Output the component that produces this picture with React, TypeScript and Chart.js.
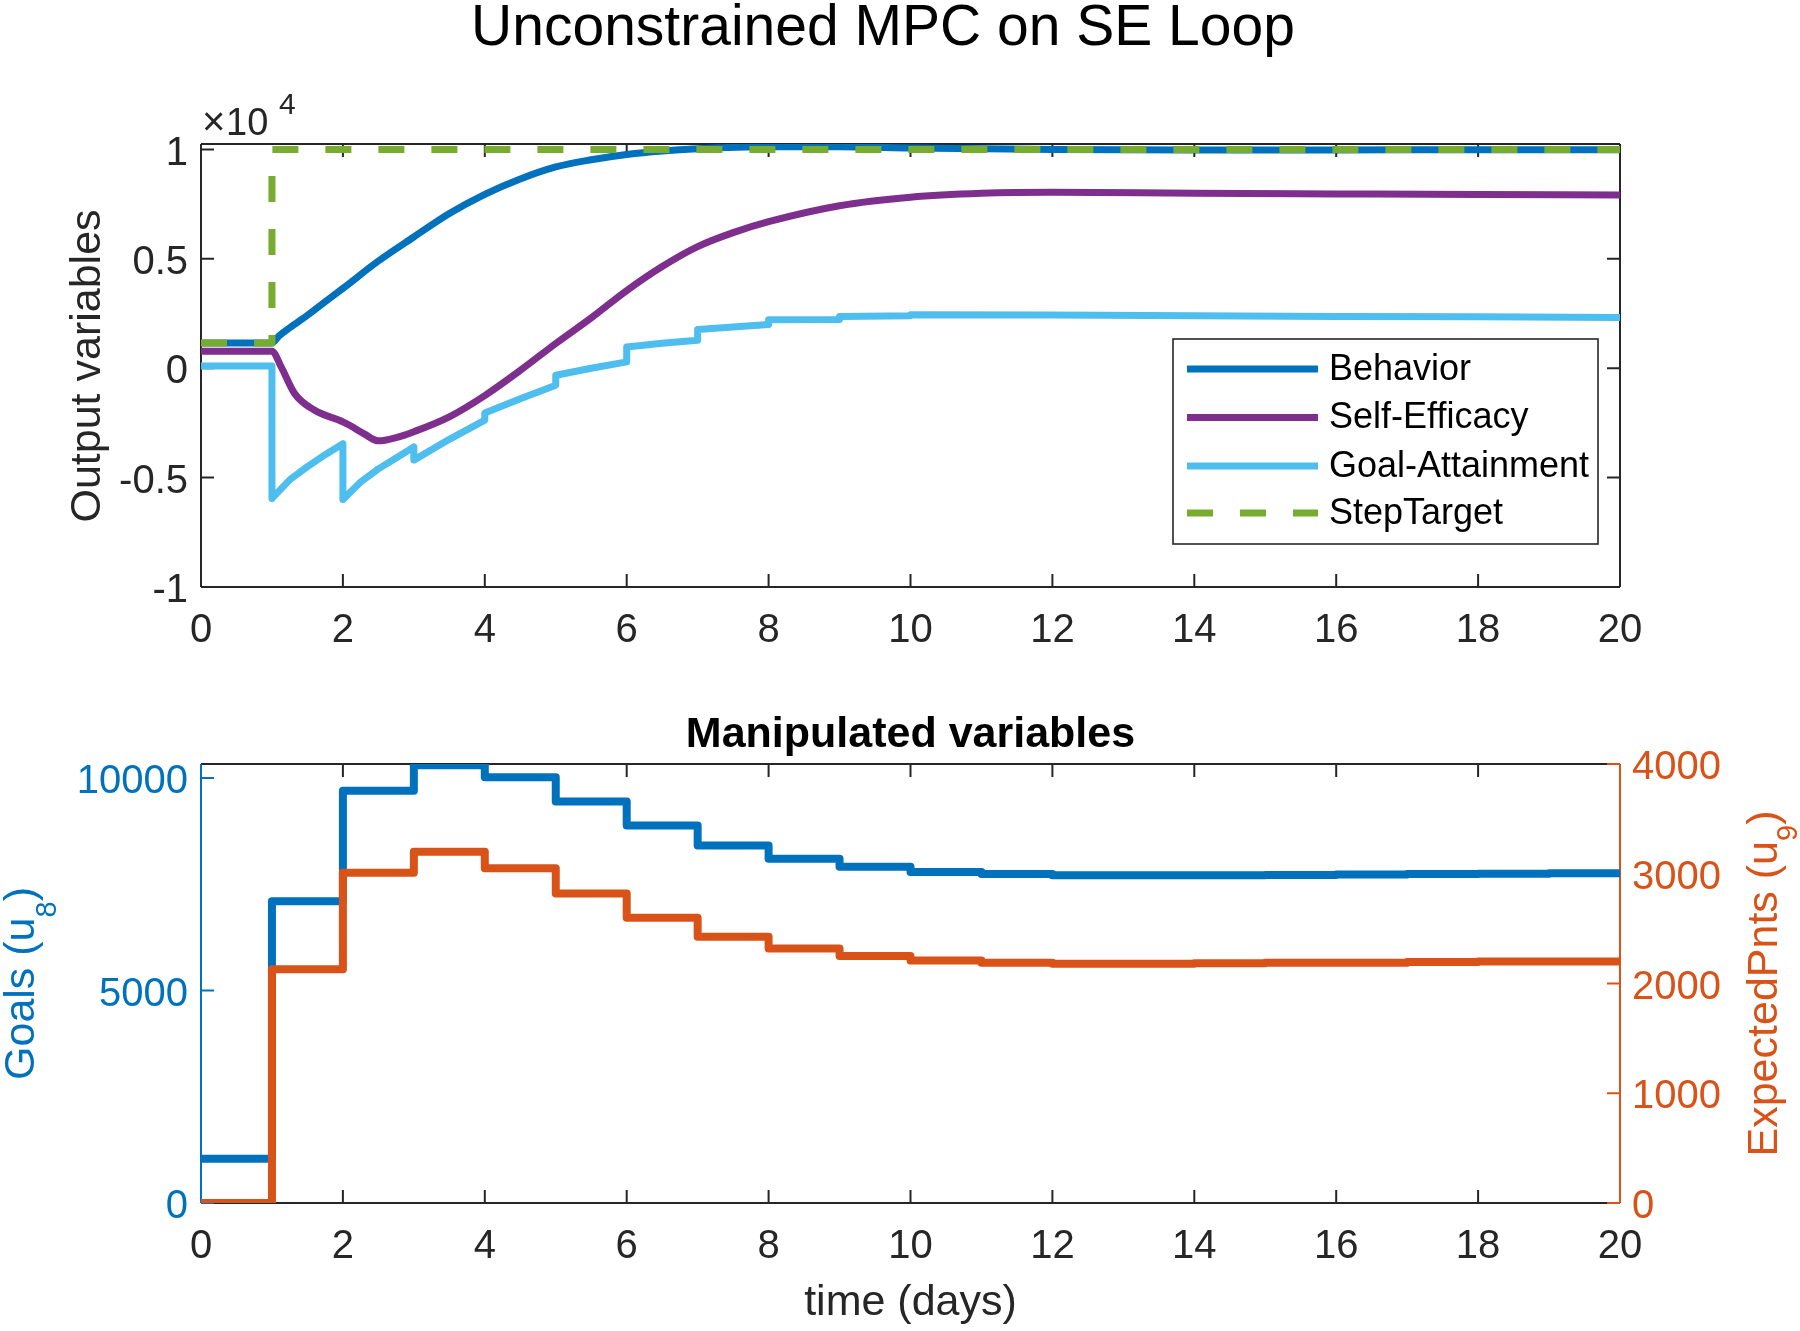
import React, { useEffect, useRef } from "react";
import { Chart, registerables } from "chart.js";

Chart.register(...registerables);

const FONT = "'Liberation Sans', Arial, Helvetica, sans-serif";

// ---------- data ----------
const DAY_TICKS = [0, 2, 4, 6, 8, 10, 12, 14, 16, 18, 20];
const OUTPUT_TICKS = [-10000, -5000, 0, 5000, 10000];
const OUTPUT_TICK_LABELS = ["-1", "-0.5", "0", "0.5", "1"];
const GOALS_TICKS = [0, 5000, 10000];
const POINTS_TICKS = [0, 1000, 2000, 3000, 4000];

const BEHAVIOR_T = [0, 1, 1.1, 1.25, 1.5, 1.75, 2, 2.5, 3, 3.5, 4, 4.5, 5, 5.5, 6, 6.5, 7, 8, 9, 10, 11, 12, 14, 16, 18, 20];
const BEHAVIOR = [1150, 1150, 1480, 1850, 2420, 3040, 3650, 4900, 6000, 7070, 7950, 8650, 9200, 9530, 9770, 9930, 10030, 10120, 10120, 10070, 10030, 10000, 9980, 9980, 9990, 9990];

const SELF_EFFICACY_T = [0, 1, 1.13, 1.32, 1.59, 2, 2.1, 2.3, 2.5, 2.75, 3, 3.5, 4, 4.5, 5, 5.5, 6, 6.5, 7, 7.5, 8, 9, 10, 11, 12, 14, 16, 18, 20];
const SELF_EFFICACY = [780, 780, 60, -1160, -1900, -2450, -2620, -3000, -3320, -3170, -2900, -2220, -1250, -100, 1130, 2300, 3550, 4650, 5560, 6200, 6700, 7430, 7820, 8000, 8050, 8000, 7970, 7940, 7920];

const GOAL_ATTAINMENT_T = [0, 1, 1, 1.25, 1.5, 1.75, 2, 2, 2.25, 2.5, 2.75, 3, 3, 3.5, 4, 4, 4.5, 5, 5, 5.5, 6, 6, 6.5, 7, 7, 7.5, 8, 8, 9, 9, 10, 10, 12, 14, 16, 18, 20];
const GOAL_ATTAINMENT = [100, 100, -5950, -5100, -4500, -3950, -3450, -6000, -5200, -4600, -4100, -3600, -4200, -3250, -2370, -2050, -1400, -780, -320, 0, 290, 970, 1140, 1280, 1770, 1880, 2000, 2220, 2230, 2360, 2400, 2440, 2430, 2400, 2370, 2350, 2320];

const STEP_TARGET_T = [0, 1, 1, 20];
const STEP_TARGET = [1150, 1150, 10000, 10000];

const MV_T = [0, 1, 2, 3, 4, 5, 6, 7, 8, 9, 10, 11, 12, 13, 14, 15, 16, 17, 18, 19, 20];
const GOALS_U8 = [1040, 7100, 9700, 10300, 10020, 9450, 8880, 8410, 8100, 7910, 7790, 7740, 7710, 7710, 7715, 7720, 7730, 7740, 7750, 7760, 7760];
const EXPECTED_PNTS_U9 = [0, 2130, 3010, 3200, 3050, 2820, 2600, 2425, 2320, 2250, 2210, 2190, 2180, 2180, 2185, 2190, 2190, 2195, 2200, 2200, 2200];

// ---------- helpers ----------
const zip = (ts: number[], vs: number[]) => ts.map((t, i) => ({ x: t, y: vs[i] }));

const C_AX = "#262626";
const C_BLUE = "#0072BD";
const C_ORANGE = "#D95319";
const TL = 13;

function drawFrame(chart: any, xId: string, leftId: string, rightId: string | null, leftColor: string, rightColor: string) {
  const { ctx, chartArea } = chart;
  const { left, right, top, bottom } = chartArea;
  const xs = chart.scales[xId];
  const ls = chart.scales[leftId];
  const rs = rightId ? chart.scales[rightId] : ls;
  ctx.save();
  ctx.lineWidth = 2;
  ctx.lineCap = "butt";
  ctx.strokeStyle = C_AX;
  ctx.beginPath();
  ctx.moveTo(left, top);
  ctx.lineTo(right, top);
  ctx.moveTo(left, bottom);
  ctx.lineTo(right, bottom);
  for (const t of xs.ticks) {
    const px = xs.getPixelForValue(t.value);
    ctx.moveTo(px, bottom);
    ctx.lineTo(px, bottom - TL);
    ctx.moveTo(px, top);
    ctx.lineTo(px, top + TL);
  }
  ctx.stroke();
  ctx.strokeStyle = leftColor;
  ctx.beginPath();
  ctx.moveTo(left, top);
  ctx.lineTo(left, bottom);
  for (const t of ls.ticks) {
    const py = ls.getPixelForValue(t.value);
    ctx.moveTo(left, py);
    ctx.lineTo(left + TL, py);
  }
  ctx.stroke();
  ctx.strokeStyle = rightColor;
  ctx.beginPath();
  ctx.moveTo(right, top);
  ctx.lineTo(right, bottom);
  for (const t of rs.ticks) {
    const py = rs.getPixelForValue(t.value);
    ctx.moveTo(right, py);
    ctx.lineTo(right - TL, py);
  }
  ctx.stroke();
  ctx.restore();
}

type Part = { text: string; size: number; dy: number };

function drawRotated(ctx: CanvasRenderingContext2D, parts: Part[], baselineX: number, centerY: number, color: string) {
  ctx.save();
  ctx.fillStyle = color;
  ctx.textBaseline = "alphabetic";
  ctx.textAlign = "left";
  let total = 0;
  const widths = parts.map((p) => {
    ctx.font = `${p.size}px ${FONT}`;
    const w = ctx.measureText(p.text).width;
    total += w;
    return w;
  });
  ctx.translate(baselineX, centerY);
  ctx.rotate(-Math.PI / 2);
  let x = -total / 2;
  parts.forEach((p, i) => {
    ctx.font = `${p.size}px ${FONT}`;
    ctx.fillText(p.text, x, p.dy);
    x += widths[i];
  });
  ctx.restore();
}

const topDecor = {
  id: "topDecor",
  beforeDatasetsDraw(chart: any) {
    drawFrame(chart, "x", "y", null, C_AX, C_AX);
  },
  afterDatasetsDraw(chart: any) {
    const { ctx } = chart;
    const bx = 1173, by = 339, bw = 425, bh = 205;
    ctx.save();
    ctx.fillStyle = "#ffffff";
    ctx.fillRect(bx, by, bw, bh);
    ctx.strokeStyle = C_AX;
    ctx.lineWidth = 1.6;
    ctx.strokeRect(bx, by, bw, bh);
    const rows = [369, 417.5, 466, 513];
    chart.data.datasets.forEach((ds: any, i: number) => {
      const y = rows[i];
      ctx.strokeStyle = ds.borderColor;
      ctx.lineWidth = 7;
      ctx.lineCap = "butt";
      ctx.setLineDash(ds.borderDash || []);
      ctx.beginPath();
      ctx.moveTo(1187, y);
      ctx.lineTo(1318, y);
      ctx.stroke();
      ctx.setLineDash([]);
      ctx.fillStyle = "#000000";
      ctx.font = `36px ${FONT}`;
      ctx.textBaseline = "middle";
      ctx.textAlign = "left";
      ctx.fillText(ds.label, 1329, y + 1);
    });
    ctx.restore();
  },
  afterDraw(chart: any) {
    const { ctx } = chart;
    ctx.save();
    ctx.fillStyle = "#000000";
    ctx.font = `57px ${FONT}`;
    ctx.textAlign = "center";
    ctx.textBaseline = "alphabetic";
    ctx.fillText("Unconstrained MPC on SE Loop", 883, 45);
    ctx.fillStyle = C_AX;
    ctx.textAlign = "left";
    ctx.font = `40px ${FONT}`;
    ctx.fillText("\u00d7", 202, 135);
    ctx.font = `38px ${FONT}`;
    ctx.fillText("10", 226, 135);
    ctx.font = `30px ${FONT}`;
    ctx.fillText("4", 279, 114);
    ctx.restore();
    drawRotated(ctx, [{ text: "Output variables", size: 43, dy: 0 }], 100, 366, C_AX);
  },
};

const bottomDecor = {
  id: "bottomDecor",
  beforeDatasetsDraw(chart: any) {
    drawFrame(chart, "x", "yl", "yr", C_BLUE, C_ORANGE);
  },
  afterDraw(chart: any) {
    const { ctx, chartArea } = chart;
    const cx = (chartArea.left + chartArea.right) / 2;
    ctx.save();
    ctx.fillStyle = "#000000";
    ctx.font = `bold 43px ${FONT}`;
    ctx.textAlign = "center";
    ctx.textBaseline = "alphabetic";
    ctx.fillText("Manipulated variables", cx, 67);
    ctx.fillStyle = C_AX;
    ctx.font = `43px ${FONT}`;
    ctx.fillText("time (days)", cx, 635);
    ctx.restore();
    const cy = (chartArea.top + chartArea.bottom) / 2;
    drawRotated(
      ctx,
      [
        { text: "Goals (u", size: 43, dy: 0 },
        { text: "8", size: 29, dy: 22 },
        { text: ")", size: 43, dy: 0 },
      ],
      34,
      cy,
      C_BLUE
    );
    drawRotated(
      ctx,
      [
        { text: "ExpectedPnts (u", size: 43, dy: 0 },
        { text: "9", size: 29, dy: 20 },
        { text: ")", size: 43, dy: 0 },
      ],
      1777,
      cy,
      C_ORANGE
    );
  },
};

const xScale = (h: number) => ({
  type: "linear",
  min: 0,
  max: 20,
  grid: { display: false, drawTicks: false },
  border: { display: false },
  afterBuildTicks: (s: any) => {
    s.ticks = DAY_TICKS.map((v) => ({ value: v }));
  },
  afterFit: (s: any) => {
    s.height = h;
  },
  ticks: {
    font: { size: 40, family: FONT },
    color: C_AX,
    padding: 20,
    maxRotation: 0,
    autoSkip: false,
    callback: (v: any) => String(v),
  },
});

export default function App() {
  const topRef = useRef<HTMLCanvasElement | null>(null);
  const botRef = useRef<HTMLCanvasElement | null>(null);

  useEffect(() => {
    const common = {
      responsive: false,
      animation: false,
      elements: {
        point: { radius: 0, hoverRadius: 0 },
        line: { tension: 0, borderJoinStyle: "round", borderCapStyle: "butt", fill: false },
      },
      events: [],
    };

    const top = new Chart(topRef.current as HTMLCanvasElement, {
      type: "line",
      data: {
        datasets: [
          { label: "Behavior", data: zip(BEHAVIOR_T, BEHAVIOR), borderColor: C_BLUE, borderWidth: 7, cubicInterpolationMode: "monotone", order: 3 },
          { label: "Self-Efficacy", data: zip(SELF_EFFICACY_T, SELF_EFFICACY), borderColor: "#7E2F8E", borderWidth: 7, cubicInterpolationMode: "monotone", order: 2 },
          { label: "Goal-Attainment", data: zip(GOAL_ATTAINMENT_T, GOAL_ATTAINMENT), borderColor: "#4DBEEE", borderWidth: 7, order: 1 },
          { label: "StepTarget", data: zip(STEP_TARGET_T, STEP_TARGET), borderColor: "#77AC30", borderWidth: 7, borderDash: [26, 27], order: 0 },
        ],
      },
      options: {
        ...common,
        layout: { padding: { left: 0, right: 180, top: 144, bottom: 0 } },
        plugins: { legend: { display: false }, tooltip: { enabled: false }, title: { display: false } },
        scales: {
          x: xScale(680 - 587),
          y: {
            type: "linear",
            min: -10000,
            max: 10250,
            grid: { display: false, drawTicks: false },
            border: { display: false },
            afterBuildTicks: (s: any) => {
              s.ticks = OUTPUT_TICKS.map((v) => ({ value: v }));
            },
            afterFit: (s: any) => {
              s.width = 201;
            },
            ticks: {
              font: { size: 40, family: FONT },
              color: C_AX,
              padding: 13,
              labelOffset: 4,
              callback: (_v: any, i: number) => OUTPUT_TICK_LABELS[i],
            },
          },
        },
      } as any,
      plugins: [topDecor as any],
    });

    const bottom = new Chart(botRef.current as HTMLCanvasElement, {
      type: "line",
      data: {
        datasets: [
          { label: "Goals (u8)", data: zip(MV_T, GOALS_U8), yAxisID: "yl", borderColor: C_BLUE, borderWidth: 8, stepped: "before", order: 1 },
          { label: "ExpectedPnts (u9)", data: zip(MV_T, EXPECTED_PNTS_U9), yAxisID: "yr", borderColor: C_ORANGE, borderWidth: 8, stepped: "before", order: 0 },
        ],
      },
      options: {
        ...common,
        layout: { padding: { left: 0, right: 0, top: 84, bottom: 0 } },
        plugins: { legend: { display: false }, tooltip: { enabled: false }, title: { display: false } },
        scales: {
          x: xScale(651 - 523),
          yl: {
            type: "linear",
            position: "left",
            min: 0,
            max: 10330,
            grid: { display: false, drawTicks: false },
            border: { display: false },
            afterBuildTicks: (s: any) => {
              s.ticks = GOALS_TICKS.map((v) => ({ value: v }));
            },
            afterFit: (s: any) => {
              s.width = 201;
            },
            ticks: {
              font: { size: 40, family: FONT },
              color: C_BLUE,
              padding: 13,
              labelOffset: 4,
              callback: (v: any) => String(v),
            },
          },
          yr: {
            type: "linear",
            position: "right",
            min: 0,
            max: 4000,
            grid: { display: false, drawTicks: false },
            border: { display: false },
            afterBuildTicks: (s: any) => {
              s.ticks = POINTS_TICKS.map((v) => ({ value: v }));
            },
            afterFit: (s: any) => {
              s.width = 180;
            },
            ticks: {
              font: { size: 40, family: FONT },
              color: C_ORANGE,
              padding: 12,
              labelOffset: 4,
              callback: (v: any) => String(v),
            },
          },
        },
      } as any,
      plugins: [bottomDecor as any],
    });

    return () => {
      top.destroy();
      bottom.destroy();
    };
  }, []);

  return (
    <div style={{ position: "absolute", left: 0, top: 0, width: 1800, height: 1331, background: "#ffffff" }}>
      <canvas ref={topRef} width={1800} height={680} style={{ position: "absolute", left: 0, top: 0, width: 1800, height: 680 }} />
      <canvas ref={botRef} width={1800} height={651} style={{ position: "absolute", left: 0, top: 680, width: 1800, height: 651 }} />
    </div>
  );
}
